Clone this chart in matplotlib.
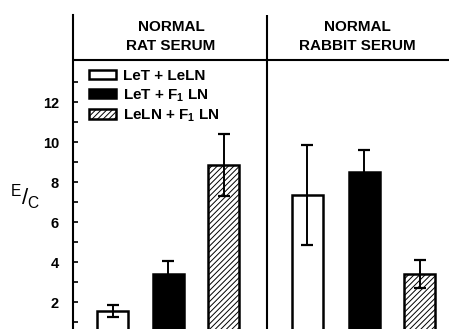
import matplotlib.pyplot as plt

plt.rcParams['font.family'] = ['Liberation Sans', 'DejaVu Sans']
plt.rcParams['hatch.linewidth'] = 0.7

groups = ["NORMAL\nRAT SERUM", "NORMAL\nRABBIT SERUM"]
labels = ["LeT + LeLN", "LeT + F$_\\mathregular{1}$ LN", "LeLN + F$_\\mathregular{1}$ LN"]
rat_vals = [1.57, 3.4, 8.85]
rat_err = [0.3, 0.67, 1.55]
rabbit_vals = [7.35, 8.5, 3.4]
rabbit_err = [2.5, 1.1, 0.68]

rat_x = [0.72, 1.72, 2.72]
rabbit_x = [4.22, 5.25, 6.25]
divider = 3.49

fig = plt.figure(figsize=(4.49, 3.29), dpi=100)
ax = fig.add_axes([73/449, 0, 1 - 73/449, 1 - 15/329])

styles = [dict(color='white', edgecolor='black', linewidth=1.8),
          dict(color='black', edgecolor='black', linewidth=1.8),
          dict(color='white', edgecolor='black', linewidth=1.8, hatch='//////')]

handles = []
for i in range(3):
    b = ax.bar([rat_x[i], rabbit_x[i]], [rat_vals[i], rabbit_vals[i]], width=0.56,
               zorder=2, **styles[i])
    handles.append(b)
    ax.errorbar([rat_x[i], rabbit_x[i]], [rat_vals[i], rabbit_vals[i]],
                yerr=[rat_err[i], rabbit_err[i]], fmt='none', ecolor='black',
                elinewidth=1.4, capsize=4, capthick=1.6, zorder=3)

ax.set_xlim(0, 6.78)
ax.set_ylim(0.65, 16.35)
for s in ['top', 'right', 'bottom']:
    ax.spines[s].set_visible(False)
ax.spines['left'].set_linewidth(1.5)
ax.set_xticks([])
ax.set_yticks([2, 4, 6, 8, 10, 12])
ax.set_yticks([1, 3, 5, 7, 9, 11, 13], minor=True)
ax.tick_params(axis='y', which='both', direction='in', length=3.5, width=1.2,
               pad=10, labelsize=10.5)
for t in ax.get_yticklabels():
    t.set_fontweight('bold')

ax.axhline(14.1, color='black', linewidth=1.5)
ax.axvline(divider, color='black', linewidth=1.5)

ax.text(divider / 2 + 0.02, 15.28, groups[0], ha='center', va='center',
        fontsize=11, fontweight='bold', linespacing=1.45)
ax.text((divider + 6.78) / 2, 15.28, groups[1], ha='center', va='center',
        fontsize=11, fontweight='bold', linespacing=1.45)

# E/C axis label
fig.text(25/449, 1 - 197/329, r"$\mathregular{^E/_C}$", ha='center', va='center',
         fontsize=16)

ax.legend(handles, labels, loc='upper left', bbox_to_anchor=(89/449, 1 - 69/329),
          bbox_transform=fig.transFigure, frameon=False, borderpad=0,
          borderaxespad=0, handlelength=1.75, handleheight=0.6,
          handletextpad=0.45, labelspacing=0.25,
          prop={'size': 11, 'weight': 'bold'})

fig.savefig('out.png', dpi=100)
